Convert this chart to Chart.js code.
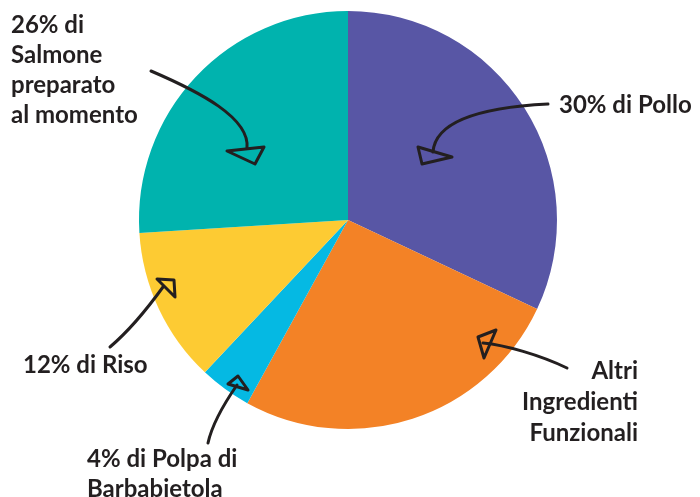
<!DOCTYPE html>
<html lang="it">
<head>
<meta charset="utf-8">
<title>Composizione</title>
<script src="https://cdn.jsdelivr.net/npm/chart.js@4/dist/chart.umd.min.js"></script>
<style>
  html, body { margin: 0; padding: 0; background: #fff; }
  #wrap { width: 700px; height: 497px; position: relative; }
</style>
</head>
<body>
<div id="wrap"><canvas id="chart"></canvas></div>
<script>
// slice values as they are drawn in the picture (clockwise from the top)
const categories = ['Pollo', 'Altri Ingredienti Funzionali', 'Polpa di Barbabietola', 'Riso', 'Salmone preparato al momento'];
const shares = [32, 26, 4, 12, 26];
const sliceColors = ['#5856a5', '#f38226', '#05b9e3', '#fdcb33', '#00b3ae'];

// callout texts, one entry per slice
const calloutLines = [
  ['30% di Pollo'],
  ['Altri', 'Ingredienti', 'Funzionali'],
  ['4% di Polpa di', 'Barbabietola'],
  ['12% di Riso'],
  ['26% di', 'Salmone', 'preparato', 'al momento'],
];

const INK = '#231f20';
const FONT = 'bold 24px Lato, "Open Sans", sans-serif';
const LINE_H = 30;

// text anchor, alignment, arrow path (start, control points, tip) and arrow head
const callouts = [
  { x: 559, y: 113, align: 'left',
    path: [[548, 104], [470, 108], [435, 125], [433, 152]],
    head: [[418, 147], [452, 157], [422, 164]] },
  { x: 638, y: 379, align: 'right', lh: 31,
    path: [[567, 368], [540, 355], [505, 345], [483, 343]],
    head: [[478, 337], [496, 330], [484, 358]] },
  { x: 87, y: 467, align: 'left',
    path: [[208, 443], [213, 420], [228, 398], [237, 385]],
    head: [[228, 384], [238, 376], [248, 390]] },
  { x: 23, y: 373, align: 'left',
    path: [[110, 347], [130, 330], [150, 305], [163, 287]],
    head: [[157, 279], [174, 280], [175, 297]] },
  { x: 11, y: 33, align: 'left',
    path: [[151, 71], [200, 92], [250, 118], [247, 148]],
    head: [[227, 151], [264, 147], [255, 164]] },
];

function drawHead(ctx, pts) {
  ctx.beginPath();
  ctx.moveTo(pts[0][0], pts[0][1]);
  ctx.lineTo(pts[1][0], pts[1][1]);
  ctx.lineTo(pts[2][0], pts[2][1]);
  ctx.closePath();
  ctx.stroke();
}

const calloutPlugin = {
  id: 'callouts',
  afterDraw(chart) {
    const { ctx } = chart;
    ctx.save();
    ctx.strokeStyle = INK;
    ctx.fillStyle = INK;
    ctx.lineWidth = 3;
    ctx.lineCap = 'round';
    ctx.lineJoin = 'round';
    callouts.forEach((c, i) => {
      const p = c.path;
      ctx.beginPath();
      ctx.moveTo(p[0][0], p[0][1]);
      ctx.bezierCurveTo(p[1][0], p[1][1], p[2][0], p[2][1], p[3][0], p[3][1]);
      ctx.stroke();
      drawHead(ctx, c.head);

      ctx.font = FONT;
      ctx.textAlign = c.align;
      ctx.textBaseline = 'alphabetic';
      calloutLines[i].forEach((line, k) => {
        ctx.fillText(line, c.x, c.y + k * (c.lh || LINE_H));
      });
    });
    ctx.restore();
  },
};

new Chart(document.getElementById('chart'), {
  type: 'pie',
  data: {
    labels: categories,
    datasets: [{
      data: shares,
      backgroundColor: sliceColors,
      borderWidth: 0,
    }],
  },
  options: {
    responsive: true,
    maintainAspectRatio: false,
    animation: false,
    layout: {
      padding: { top: 11, bottom: 68, left: 139, right: 143 },
    },
    plugins: {
      legend: { display: false },
      tooltip: { enabled: false },
    },
  },
  plugins: [calloutPlugin],
});
</script>
</body>
</html>
